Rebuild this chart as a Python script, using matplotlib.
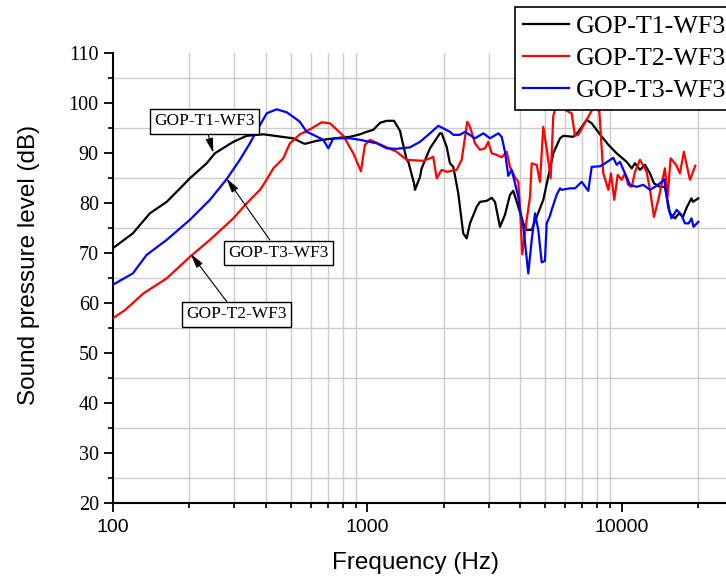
import matplotlib
matplotlib.use("Agg")
import matplotlib.pyplot as plt
from matplotlib.ticker import MultipleLocator, FixedLocator, FixedFormatter, LogLocator, NullFormatter

# ---- data ----
freq_t1 = [100, 120, 140, 163, 184, 201, 234, 252, 298, 336, 391, 512, 561, 570, 633, 693,
           806, 856, 937, 995, 1057, 1123, 1193, 1275, 1346, 1366, 1430, 1451, 1528, 1541,
           1613, 1637, 1765, 1932, 1962, 2053, 2115, 2180, 2280, 2385, 2460, 2535, 2693,
           2775, 2948, 3085, 3178, 3325, 3479, 3640, 3751, 3924, 4107, 4234, 4431, 4634,
           4920, 5147, 5386, 5724, 5896, 6454, 6753, 7288, 7625, 8216, 8866, 9560, 10460,
           10950, 11280, 11800, 12350, 12920, 13390, 14140, 14790, 15480, 16200, 16790,
           17410, 18060, 18800, 19060, 20000]
spl_t1 = [71.0, 74.0, 78.0, 80.3, 83.0, 85.0, 88.0, 90.0, 92.3, 93.5, 93.8, 93.0, 92.0, 91.9,
          92.5, 92.8, 93.2, 93.3, 93.8, 94.3, 94.7, 96.1, 96.5, 96.5, 94.5, 93.0, 88.7, 88.3,
          84.0, 82.7, 85.3, 87.0, 91.0, 94.0, 94.0, 91.3, 88.0, 87.3, 82.0, 74.0, 73.0, 76.0,
          79.3, 80.3, 80.5, 81.1, 80.3, 75.3, 77.7, 81.7, 82.5, 79.3, 76.0, 74.7, 74.7, 77.3,
          80.7, 85.3, 90.0, 93.0, 93.5, 93.3, 94.3, 96.7, 96.0, 93.8, 91.7, 90.0, 88.3, 87.0,
          88.0, 86.7, 87.7, 86.0, 84.0, 83.3, 83.3, 78.0, 77.0, 78.0, 77.3, 79.3, 81.0, 80.3,
          81.0]

freq_t2 = [100, 112, 132, 163, 201, 241, 298, 336, 379, 391, 428, 468, 497, 544, 596, 662,
           714, 806, 882, 945, 980, 1026, 1193, 1306, 1430, 1661, 1765, 1818, 1876, 1962,
           2053, 2247, 2351, 2474, 2535, 2652, 2775, 2903, 2991, 3085, 3227, 3377, 3533,
           3640, 3809, 3924, 3985, 4069, 4170, 4234, 4363, 4431, 4634, 4775, 4920, 5073,
           5260, 5386, 5470, 5812, 6080, 6360, 6555, 6753, 7853, 8172, 8466, 8866, 9077,
           9352, 9647, 9999, 10300, 10610, 10950, 11280, 11800, 12530, 12920, 13390, 13930,
           14790, 15150, 15570, 16350, 16940, 17550, 18550, 19460]
spl_t2 = [57.0, 58.7, 62.0, 65.0, 69.3, 72.7, 77.0, 80.0, 82.7, 83.7, 87.0, 89.0, 92.0, 93.8,
          94.8, 96.2, 96.0, 93.5, 90.0, 86.4, 91.7, 92.7, 91.2, 90.3, 88.7, 88.5, 89.0, 89.3,
          85.0, 86.7, 86.3, 86.7, 88.7, 96.3, 95.3, 92.0, 90.7, 91.0, 92.3, 90.0, 89.7, 89.2,
          90.3, 87.3, 85.2, 84.3, 79.3, 69.8, 74.0, 76.7, 81.3, 88.0, 87.7, 84.3, 95.3, 91.0,
          85.0, 97.5, 98.7, 99.7, 98.5, 98.0, 93.5, 93.7, 99.7, 98.3, 86.0, 82.7, 86.0, 80.7,
          85.7, 84.7, 86.0, 83.7, 83.3, 86.3, 88.7, 86.3, 82.7, 77.3, 80.7, 87.0, 81.3, 89.0,
          87.7, 86.0, 90.3, 84.7, 87.5]

freq_t3 = [100, 120, 136, 163, 201, 241, 280, 316, 346, 368, 403, 441, 483, 528, 544, 578,
           614, 672, 704, 736, 856, 937, 1090, 1193, 1306, 1473, 1613, 1765, 1903, 2115,
           2180, 2315, 2423, 2652, 2859, 3038, 3274, 3377, 3479, 3585, 3697, 3809, 3924,
           3985, 4107, 4296, 4431, 4565, 4702, 4850, 4995, 5073, 5227, 5309, 5553, 5724,
           5812, 6264, 6555, 6964, 7392, 7625, 8216, 8600, 9268, 9560, 9847, 10300, 10780,
           11450, 12150, 12920, 13510, 14140, 14700, 15220, 15700, 16440, 17170, 17730,
           18350, 18800, 19160, 20000]
spl_t3 = [63.7, 66.0, 69.7, 72.7, 76.7, 80.7, 84.8, 88.7, 92.0, 94.5, 98.0, 98.8, 98.2, 96.8,
          96.3, 94.3, 93.7, 92.7, 91.0, 93.0, 93.0, 92.7, 92.0, 91.0, 90.9, 91.2, 92.3, 94.0,
          95.5, 94.3, 93.7, 93.7, 94.3, 93.0, 94.0, 93.0, 94.0, 93.3, 90.3, 85.5, 86.7, 84.0,
          81.3, 78.7, 75.3, 66.0, 72.7, 78.0, 74.7, 68.2, 68.5, 76.0, 77.5, 78.7, 81.7, 83.0,
          82.7, 83.0, 83.0, 84.3, 82.5, 87.3, 87.4, 88.0, 89.1, 87.7, 88.3, 86.0, 83.7, 83.3,
          83.7, 82.7, 83.3, 84.0, 84.8, 79.3, 77.0, 78.7, 77.7, 76.0, 76.0, 77.0, 75.3, 76.3]

series_names = ['GOP-T1-WF3', 'GOP-T2-WF3', 'GOP-T3-WF3']
x_ticks = [100, 1000, 10000]
x_tick_labels = ['100', '1000', '10000']

serif = ['Liberation Serif', 'DejaVu Serif']
sans = ['Liberation Sans', 'DejaVu Sans']

fig = plt.figure(figsize=(7.26, 5.81), dpi=100)
ax = fig.add_axes([0.1552, 0.1334, 0.8448, 0.7749])

ax.plot(freq_t1, spl_t1, color='black', lw=1.6, label=series_names[0], zorder=3)
ax.plot(freq_t2, spl_t2, color='red', lw=1.6, label=series_names[1], zorder=3)
ax.plot(freq_t3, spl_t3, color='blue', lw=1.6, label=series_names[2], zorder=3)

ax.set_xscale('log')
ax.set_xlim(100, 25700)
ax.set_ylim(20, 110)

ax.xaxis.set_major_locator(FixedLocator(x_ticks))
ax.xaxis.set_major_formatter(FixedFormatter(x_tick_labels))
ax.xaxis.set_minor_locator(LogLocator(base=10, subs=range(2, 10)))
ax.xaxis.set_minor_formatter(NullFormatter())
ax.yaxis.set_major_locator(MultipleLocator(10))
ax.yaxis.set_minor_locator(MultipleLocator(5))

# grid only on the minor ticks
ax.grid(False, which='major')
ax.grid(True, which='minor', color='#cccccc', lw=1.0)
ax.set_axisbelow(True)

ax.spines['top'].set_visible(False)
ax.spines['right'].set_visible(False)
ax.spines['left'].set_linewidth(1.5)
ax.spines['bottom'].set_linewidth(1.5)

ax.tick_params(which='major', direction='out', length=6.5, width=1.3)
ax.tick_params(which='minor', direction='out', length=3.5, width=1.2)
ax.tick_params(axis='x', which='major', pad=5)
for lab in ax.get_yticklabels():
    lab.set_family(serif)
    lab.set_fontsize(14.5)
for lab in ax.get_xticklabels():
    lab.set_family(sans)
    lab.set_fontsize(14)

ax.set_xlabel('Frequency (Hz)', family=sans, fontsize=17.5)
ax.set_ylabel('Sound pressure level (dB)', family=sans, fontsize=17.5)
ax.xaxis.set_label_coords(0.4945, -0.108)
ax.yaxis.set_label_coords(-0.1185, 0.530)

leg = fig.legend(loc='upper left', bbox_to_anchor=(515 / 726, 1 - 7.3 / 581),
                 prop={'family': serif, 'size': 18.7}, frameon=True, fancybox=False,
                 borderaxespad=0, borderpad=0.3, labelspacing=0.34,
                 handlelength=1.77, handletextpad=0.27)
leg.get_frame().set_edgecolor('black')
leg.get_frame().set_linewidth(1.2)
leg.get_frame().set_alpha(1)

box = dict(boxstyle='square,pad=0.25', fc='white', ec='black', lw=1.0)
arrow = dict(arrowstyle='-|>,head_length=0.7,head_width=0.18', color='black', lw=0.8,
             shrinkA=0, shrinkB=0)
ax.annotate(series_names[0], xy=(248.5, 90.1), xytext=(229.5, 96.4), ha='center', va='center',
            family=serif, fontsize=12.5, bbox=box, arrowprops=arrow)
ax.annotate(series_names[2], xy=(280, 85.0), xytext=(450, 70.1), ha='center', va='center',
            family=serif, fontsize=12.5, bbox=box, arrowprops=arrow)
ax.annotate(series_names[1], xy=(202.5, 69.9), xytext=(306.5, 57.8), ha='center', va='center',
            family=serif, fontsize=12.5, bbox=box, arrowprops=arrow)

fig.savefig('out.png', dpi=100)
